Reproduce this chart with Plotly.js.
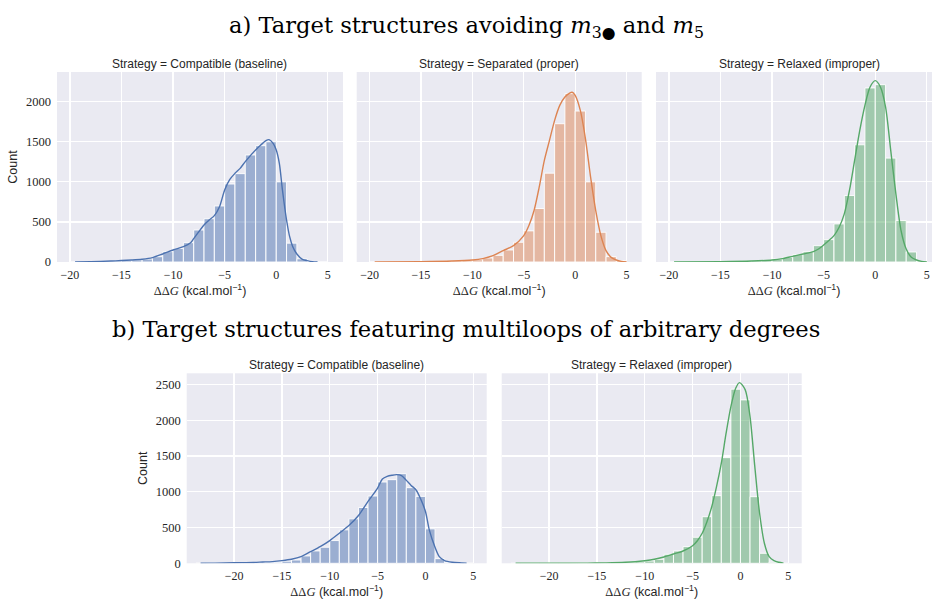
<!DOCTYPE html>
<html><head><meta charset="utf-8">
<script src="https://cdn.plot.ly/plotly-3.0.1.min.js"></script>
<style>html,body{margin:0;padding:0;background:#fff;overflow:hidden}</style>
</head><body><div id="chart" style="width:932px;height:599px"></div>
<script>
// ---------- data ----------
const binStartTop = [-20,-19,-18,-17,-16,-15,-14,-13,-12,-11,-10,-9,-8,-7,-6,-5,-4,-3,-2,-1,0,1,2,3,4];
const binStartBottom = [-24,-23,-22,-21,-20,-19,-18,-17,-16,-15,-14,-13,-12,-11,-10,-9,-8,-7,-6,-5,-4,-3,-2,-1,0,1,2,3,4];
const binWidth = 1;

// a) Compatible (baseline)
const countsA1 = [2,3,5,8,12,18,25,37,66,129,170,241,399,540,699,973,1102,1335,1451,1500,1000,235,40,5,1];
const kdeXA1 = [-19.5,-18,-16,-15,-14,-13,-12,-11,-10,-9,-8.3,-8,-7,-6.5,-6,-5.5,-5,-4.5,-4,-3.5,-3,-2,-1.5,-1,-0.7,-0.3,0,0.3,0.6,1,1.3,1.6,2,2.5,3,3.5,4];
const kdeYA1 = [0,4,12,18,25,35,55,100,150,191,241,291,462,524,578,690,898,1030,1106,1168,1252,1397,1459,1514,1526,1480,1397,1231,898,524,316,191,100,37,17,4,0];

// a) Separated (proper)
const countsA2 = [1,1,2,3,4,6,8,10,13,17,29,50,83,150,246,388,667,1108,1725,2100,1883,1000,371,67,17];
const kdeXA2 = [-19.5,-15,-12,-10,-9,-8,-7,-6,-5,-4.5,-4,-3.5,-3,-2.5,-2,-1.5,-1,-0.5,-0.3,0,0.5,1,1.5,2,2.5,3,3.5,4,4.5,5];
const kdeYA2 = [0,4,12,25,42,79,142,204,329,454,642,933,1267,1517,1767,1954,2058,2110,2117,2079,1892,1537,1058,642,329,142,58,25,8,0];

// a) Relaxed (improper)
const countsA3 = [0,1,1,2,3,4,6,9,13,20,37,58,92,129,204,279,475,829,1462,2171,2212,1296,517,125,8];
const kdeXA3 = [-19.5,-15,-12,-10,-9,-8,-7,-6,-5.5,-5,-4.5,-4,-3.5,-3,-2.5,-2,-1.5,-1,-0.5,0,0.5,1,1.5,2,2.5,3,3.5,4,4.5,5];
const kdeYA3 = [0,4,12,25,42,71,100,129,162,212,267,329,433,600,892,1267,1642,1954,2183,2262,2183,1933,1392,850,392,162,58,25,8,0];

// b) Compatible (baseline)
const countsB1 = [1,1,2,2,3,4,6,8,14,30,46,103,173,225,318,468,622,781,941,1137,1170,1254,1058,936,482,65,10,3,1];
const kdeXB1 = [-23.5,-22,-20,-18,-17,-16,-15,-14,-13,-12,-11,-10,-9,-8,-7,-6,-5,-4.5,-4,-3.5,-3,-2.5,-2,-1.5,-1,-0.5,0,0.4,1,1.45,2,2.8,3.8,4.3];
const kdeYB1 = [0,2,8,12,18,24,37,56,93,163,233,318,421,528,669,866,1053,1180,1217,1232,1240,1226,1160,1090,1029,900,725,468,224,93,37,14,5,0];

// b) Relaxed (improper)
const countsB2 = [0,0,1,1,1,1,2,2,3,3,5,8,12,20,32,56,126,172,233,364,652,946,1478,2436,2286,932,140,15,0];
const kdeXB2 = [-23.5,-20,-16,-14,-12,-11,-10,-9,-8,-7,-6,-5,-4.5,-4,-3.5,-3,-2.5,-2,-1.5,-1,-0.5,-0.1,0.5,1,1.5,2,2.5,3,3.5,4,4.5];
const kdeYB2 = [0,1,3,6,14,22,36,56,88,130,172,246,316,420,582,792,1072,1400,1820,2192,2449,2528,2426,2052,1352,700,280,92,36,14,2];

const panelTitles = ['Strategy = Compatible (baseline)','Strategy = Separated (proper)','Strategy = Relaxed (improper)','Strategy = Compatible (baseline)','Strategy = Relaxed (improper)'];
const xTicks = [-20,-15,-10,-5,0,5];
const yTicksTop = [0,500,1000,1500,2000];
const yTicksBottom = [0,500,1000,1500,2000,2500];

// ---------- styling ----------
const BLUE = '76,114,176', ORANGE = '221,132,82', GREEN = '85,168,104';
const TXT = '#262626';
const SERIF = 'Liberation Serif, DejaVu Serif, serif';
const TITLESERIF = 'DejaVu Serif, Liberation Serif, serif';
const SANS = 'Liberation Sans, DejaVu Sans, sans-serif';
const W = 932, H = 599;

const panels = [
  {counts: countsA1, bins: binStartTop, kx: kdeXA1, ky: kdeYA1, col: BLUE},
  {counts: countsA2, bins: binStartTop, kx: kdeXA2, ky: kdeYA2, col: ORANGE},
  {counts: countsA3, bins: binStartTop, kx: kdeXA3, ky: kdeYA3, col: GREEN},
  {counts: countsB1, bins: binStartBottom, kx: kdeXB1, ky: kdeYB1, col: BLUE},
  {counts: countsB2, bins: binStartBottom, kx: kdeXB2, ky: kdeYB2, col: GREEN}
];

const traces = [];
panels.forEach((p, i) => {
  const ax = i === 0 ? '' : String(i + 1);
  traces.push({
    type: 'bar', x: p.bins, y: p.counts, width: binWidth, offset: 0,
    xaxis: 'x' + ax, yaxis: 'y' + ax,
    marker: {color: 'rgba(' + p.col + ',0.5)', line: {color: 'rgba(255,255,255,0.9)', width: 1}},
    hoverinfo: 'x+y', showlegend: false
  });
  traces.push({
    type: 'scatter', mode: 'lines', x: p.kx, y: p.ky,
    xaxis: 'x' + ax, yaxis: 'y' + ax,
    line: {color: 'rgb(' + p.col + ')', width: 1.4, shape: 'spline', smoothing: 0.8},
    hoverinfo: 'skip', showlegend: false
  });
});

const xTitle = "<span style=\"font-family:'Liberation Serif'\">ΔΔ<i>G</i></span> (kcal.mol<sup>−1</sup>)";

function xAxis(d0, d1, range, anchor) {
  return {
    domain: [d0 / W, d1 / W], range: range, anchor: anchor,
    tickmode: 'array', tickvals: xTicks,
    showgrid: true, gridcolor: '#ffffff', gridwidth: 1.2,
    zeroline: false, showline: false, ticks: '', ticklabelstandoff: 4,
    tickfont: {family: SERIF, size: 12, color: TXT},
    title: {text: xTitle, font: {family: SANS, size: 12.5, color: TXT}, standoff: 1},
    fixedrange: true
  };
}
function yAxis(top, bottom, range, anchor, vals, labels) {
  const o = {
    domain: [1 - bottom / H, 1 - top / H], range: range, anchor: anchor,
    tickmode: 'array', tickvals: vals,
    showgrid: true, gridcolor: '#ffffff', gridwidth: 1.2,
    zeroline: false, showline: false, ticks: '', ticklabelstandoff: 5,
    showticklabels: labels,
    tickfont: {family: SERIF, size: 12.5, color: TXT},
    fixedrange: true
  };
  if (labels) o.title = {text: 'Count', font: {family: SANS, size: 12.5, color: TXT}, standoff: 5};
  return o;
}

const topRange = [0, 2370], botRange = [0, 2658];
const layout = {
  width: W, height: H,
  margin: {l: 0, r: 0, t: 0, b: 0},
  paper_bgcolor: '#ffffff', plot_bgcolor: '#EAEAF2',
  bargap: 0,
  xaxis:  xAxis(57, 343, [-21.25, 6.47], 'y'),
  xaxis2: xAxis(356.7, 641.7, [-21.25, 6.47], 'y2'),
  xaxis3: xAxis(656, 932, [-21.25, 5.5], 'y3'),
  xaxis4: xAxis(186.7, 486.7, [-24.95, 6.4], 'y4'),
  xaxis5: xAxis(501.7, 801.7, [-24.95, 6.4], 'y5'),
  yaxis:  yAxis(72, 262, topRange, 'x', yTicksTop, true),
  yaxis2: yAxis(72, 262, topRange, 'x2', yTicksTop, false),
  yaxis3: yAxis(72, 262, topRange, 'x3', yTicksTop, false),
  yaxis4: yAxis(373.3, 563.3, botRange, 'x4', yTicksBottom, true),
  yaxis5: yAxis(373.3, 563.3, botRange, 'x5', yTicksBottom, false),
  annotations: []
};

const titleCentersX = [199, 499, 799, 336.7, 651.7];
const titleY = [63.5, 63.5, 63.5, 365, 365];
panelTitles.forEach((t, i) => {
  layout.annotations.push({
    text: t, xref: 'paper', yref: 'paper',
    x: titleCentersX[i] / W, y: 1 - titleY[i] / H,
    xanchor: 'center', yanchor: 'middle', showarrow: false,
    font: {family: SANS, size: 12, color: TXT}
  });
});
layout.annotations.push({
  text: 'a) Target structures avoiding <i>m</i><sub>3●</sub> and <i>m</i><sub>5</sub>',
  xref: 'paper', yref: 'paper', x: 466 / W, y: 1 - 27 / H,
  xanchor: 'center', yanchor: 'middle', showarrow: false,
  font: {family: TITLESERIF, size: 22.6, color: '#000'}
});
layout.annotations.push({
  text: 'b) Target structures featuring multiloops of arbitrary degrees',
  xref: 'paper', yref: 'paper', x: 466 / W, y: 1 - 329 / H,
  xanchor: 'center', yanchor: 'middle', showarrow: false,
  font: {family: TITLESERIF, size: 22.6, color: '#000'}
});

Plotly.newPlot('chart', traces, layout, {displayModeBar: false, staticPlot: true});
</script></body></html>
